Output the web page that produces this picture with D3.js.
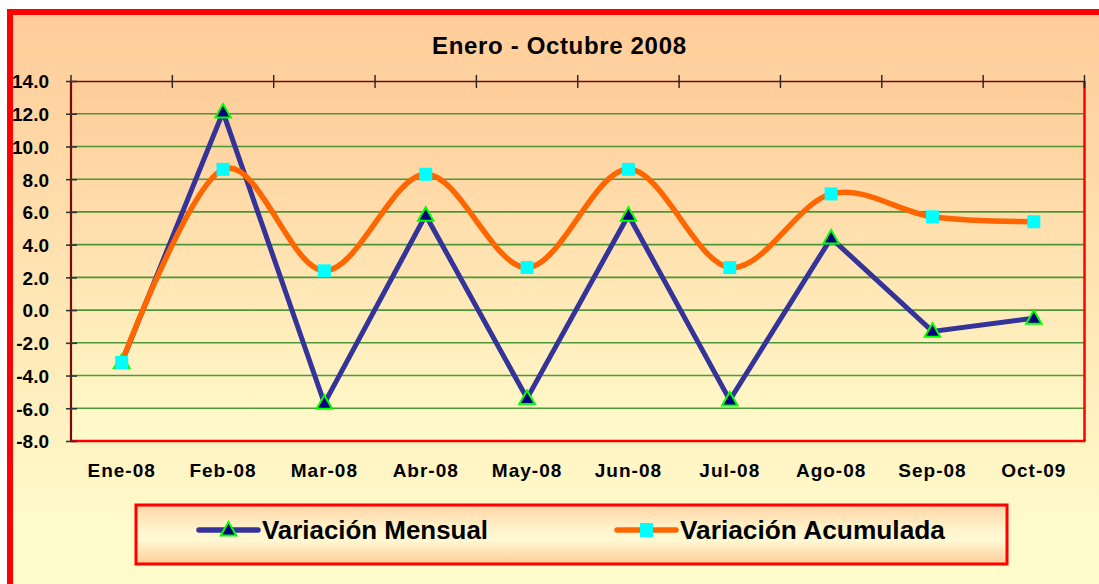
<!DOCTYPE html>
<html>
<head>
<meta charset="utf-8">
<script src="https://cdn.jsdelivr.net/npm/d3@7"></script>
<style>
  html, body { margin: 0; padding: 0; background: #ffffff; }
  svg { display: block; }
  text { font-family: "Liberation Sans", Arial, sans-serif; font-weight: bold; fill: #000; }
</style>
</head>
<body>
<svg id="chart" width="1099" height="584"></svg>
<script>
const title = "Enero - Octubre 2008";
const categories = ["Ene-08", "Feb-08", "Mar-08", "Abr-08", "May-08", "Jun-08", "Jul-08", "Ago-08", "Sep-08", "Oct-09"];
const mensual = [-3.2, 12.1, -5.7, 5.8, -5.4, 5.8, -5.5, 4.4, -1.3, -0.5];
const acumulada = [-3.2, 8.6, 2.4, 8.3, 2.6, 8.6, 2.6, 7.1, 5.7, 5.4];
const yTicks = [-8, -6, -4, -2, 0, 2, 4, 6, 8, 10, 12, 14];
const seriesNames = ["Variación Mensual", "Variación Acumulada"];

const svg = d3.select("#chart");
const defs = svg.append("defs");

function vGrad(id, y1, y2, stops) {
  const g = defs.append("linearGradient").attr("id", id)
    .attr("gradientUnits", "userSpaceOnUse")
    .attr("x1", 0).attr("x2", 0).attr("y1", y1).attr("y2", y2);
  stops.forEach(s => g.append("stop").attr("offset", s[0]).attr("stop-color", s[1]));
}
vGrad("outerG", 15, 530, [[0, "#FFCC99"], [1, "#FFFBCB"]]);
vGrad("plotG", 81, 441, [[0, "#FFCC99"], [1, "#FFFBCB"]]);
vGrad("legG", 505, 564, [[0, "#FFD6A8"], [0.45, "#FFF6CF"], [0.6, "#FFF8D2"], [1, "#FFCC99"]]);

// outer chart frame (extends beyond the viewport on right/bottom)
svg.append("rect").attr("x", 10).attr("y", 12).attr("width", 1200).attr("height", 700)
  .attr("fill", "url(#outerG)").attr("stroke", "#FF0000").attr("stroke-width", 6);

const plot = { left: 71, right: 1084.5, top: 81, bottom: 441 };

const x = d3.scaleBand().domain(categories).range([plot.left, plot.right]);
const cx = c => x(c) + x.bandwidth() / 2;
const y = d3.scaleLinear().domain([-8, 14]).range([plot.bottom, plot.top]);

// plot area
svg.append("rect").attr("x", plot.left).attr("y", plot.top)
  .attr("width", plot.right - plot.left).attr("height", plot.bottom - plot.top)
  .attr("fill", "url(#plotG)");

// gridlines
svg.append("g").selectAll("line").data(yTicks.filter(d => d > -8 && d < 14)).join("line")
  .attr("x1", plot.left).attr("x2", plot.right)
  .attr("y1", d => y(d)).attr("y2", d => y(d))
  .attr("stroke", "#2f8a1e").attr("stroke-width", 1.6).attr("stroke-opacity", 0.85);

// plot border (red) bottom & right
svg.append("line").attr("x1", plot.left).attr("x2", plot.right + 1)
  .attr("y1", plot.bottom).attr("y2", plot.bottom).attr("stroke", "#FF0000").attr("stroke-width", 2.5);
svg.append("line").attr("x1", plot.right).attr("x2", plot.right)
  .attr("y1", plot.top).attr("y2", plot.bottom).attr("stroke", "#FF0000").attr("stroke-width", 2.5);

// category axis at the top (ticks crossing)
const xAxis = svg.append("g").attr("transform", `translate(0,${plot.top})`)
  .call(d3.axisTop(x).tickSize(0).tickFormat(""));
xAxis.select(".domain").attr("stroke", "#6b1010").attr("stroke-width", 1.6);
const boundaries = categories.map(c => x(c)).concat([plot.right]);
svg.append("g").selectAll("line").data(boundaries).join("line")
  .attr("x1", d => d).attr("x2", d => d)
  .attr("y1", plot.top - 6).attr("y2", plot.top + 7)
  .attr("stroke", "#222").attr("stroke-width", 1.4);

// category labels
svg.append("g").selectAll("text").data(categories).join("text")
  .attr("x", d => cx(d)).attr("y", 477)
  .attr("text-anchor", "middle").attr("font-size", 19).attr("letter-spacing", 1)
  .text(d => d);

// value axis
const yAxis = svg.append("g").attr("transform", `translate(${plot.left},0)`)
  .call(d3.axisLeft(y).tickValues(yTicks).tickFormat(d => d.toFixed(1)).tickSize(5).tickPadding(17));
yAxis.select(".domain").attr("stroke", "#7a0a0a").attr("stroke-width", 2.2)
  .attr("d", `M0,${plot.top}V${plot.bottom}`);
yAxis.selectAll(".tick line").attr("x1", -5).attr("x2", 6).attr("stroke", "#333").attr("stroke-width", 1.6);
yAxis.selectAll(".tick text").attr("font-size", 19).attr("font-family", "'Liberation Sans', Arial, sans-serif")
  .attr("font-weight", "bold").attr("fill", "#000").attr("dy", "0.36em");

// title
svg.append("text").attr("x", 559).attr("y", 53.5).attr("text-anchor", "middle")
  .attr("font-size", 24).attr("textLength", 254).attr("lengthAdjust", "spacing").text(title);

// series
const blueLine = d3.line().x((d, i) => cx(categories[i])).y(d => y(d));
const orangeLine = d3.line().x((d, i) => cx(categories[i])).y(d => y(d)).curve(d3.curveCardinal.tension(0));

svg.append("path").datum(mensual).attr("d", blueLine)
  .attr("fill", "none").attr("stroke", "#333399").attr("stroke-width", 5).attr("stroke-linejoin", "miter");
svg.append("path").datum(acumulada).attr("d", orangeLine)
  .attr("fill", "none").attr("stroke", "#FF6600").attr("stroke-width", 5.5);

const tri = d3.symbol().type(d3.symbolTriangle).size(105);
svg.append("g").selectAll("path").data(mensual).join("path")
  .attr("d", tri).attr("transform", (d, i) => `translate(${cx(categories[i])},${y(d) + 1})`)
  .attr("fill", "#000080").attr("stroke", "#00FF00").attr("stroke-width", 2);

const sq = 13;
svg.append("g").selectAll("rect").data(acumulada).join("rect")
  .attr("x", (d, i) => cx(categories[i]) - sq / 2).attr("y", d => y(d) - sq / 2)
  .attr("width", sq).attr("height", sq).attr("fill", "#00FFFF");

// legend
const leg = svg.append("g");
leg.append("rect").attr("x", 136).attr("y", 505).attr("width", 871).attr("height", 59)
  .attr("fill", "url(#legG)").attr("stroke", "#FF0000").attr("stroke-width", 3);
const legY = 530;
const legItems = [
  { name: seriesNames[0], x0: 199, x1: 258, tx: 262, tw: 226, color: "#333399", marker: "tri" },
  { name: seriesNames[1], x0: 617, x1: 676, tx: 680, tw: 265, color: "#FF6600", marker: "sq" }
];
legItems.forEach(it => {
  leg.append("line").attr("x1", it.x0).attr("x2", it.x1).attr("y1", legY).attr("y2", legY)
    .attr("stroke", it.color).attr("stroke-width", 5.5).attr("stroke-linecap", "round");
  const mx = (it.x0 + it.x1) / 2;
  if (it.marker === "tri") {
    leg.append("path").attr("d", tri).attr("transform", `translate(${mx},${legY + 1})`)
      .attr("fill", "#000080").attr("stroke", "#00FF00").attr("stroke-width", 2);
  } else {
    leg.append("rect").attr("x", mx - 6.5).attr("y", legY - 7).attr("width", 13).attr("height", 14)
      .attr("fill", "#00FFFF");
  }
  leg.append("text").attr("x", it.tx).attr("y", 538.5).attr("font-size", 25)
    .attr("textLength", it.tw).attr("lengthAdjust", "spacingAndGlyphs").text(it.name);
});
</script>
</body>
</html>
